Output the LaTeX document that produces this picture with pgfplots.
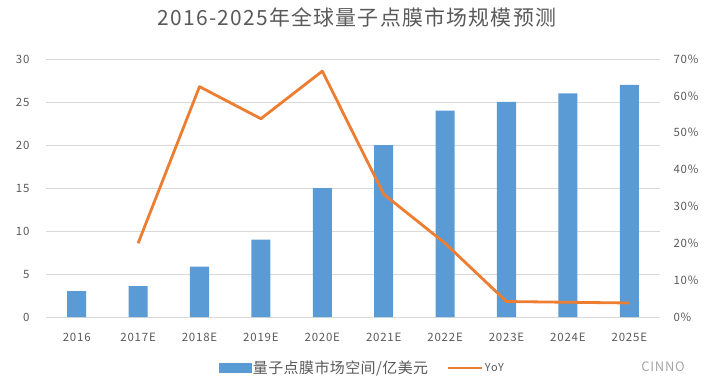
\documentclass[border=0pt]{standalone}
\usepackage{fontspec}
\setmainfont{Noto Sans CJK SC}
\usepackage{pgfplots}
\pgfplotsset{compat=1.18}
\definecolor{barblue}{HTML}{5B9BD5}
\definecolor{lineorange}{HTML}{ED7D31}
\definecolor{txtgray}{HTML}{595959}
\definecolor{gridgray}{HTML}{D9D9D9}
\newcommand{\tickfont}{\fontsize{11.5}{13}\selectfont\addfontfeatures{LetterSpace=7}}
\begin{document}
\begin{tikzpicture}[x=1bp,y=1bp]
\useasboundingbox (0,0) rectangle (712,388);
\node[text=txtgray, font=\fontsize{21}{24}\selectfont\addfontfeatures{LetterSpace=6}] at (357,371) {2016-2025年全球量子点膜市场规模预测};
\node[text=black!35, font=\fontsize{13}{15}\selectfont\addfontfeatures{LetterSpace=6}] at (663,21) {CINNO};
\begin{axis}[at={(46bp,71bp)}, anchor=south west, scale only axis,
  width=614bp, height=258bp,
  xmin=-0.5, xmax=9.5, ymin=0, ymax=30,
  xtick={0,...,9},
  xticklabels={2016,2017E,2018E,2019E,2020E,2021E,2022E,2023E,2024E,2025E},
  ytick={0,5,...,30},
  axis line style={draw=none},
  ymajorgrids, grid style={gridgray, line width=0.9bp},
  major tick length=0pt,
  tick label style={font=\tickfont, text=txtgray},
  /pgf/number format/assume math mode=true,
  xticklabel style={anchor=center, yshift=-20bp},
  yticklabel style={anchor=east, xshift=-13bp},
  legend style={at={(axis description cs:0.515,-0.198)}, anchor=center, draw=none, fill=none,
    font=\fontsize{15}{17}\selectfont\addfontfeatures{LetterSpace=3}, text=txtgray, legend columns=2,
    /tikz/every even column/.append style={column sep=16bp}},
]
\addplot[ybar, bar width=0.31, fill=barblue, draw=none, forget plot] coordinates {
 (0,3) (1,3.6) (2,5.85) (3,9) (4,15) (5,20) (6,24) (7,25) (8,26) (9,27)};
\addlegendimage{legend image code/.code={\fill[barblue] (0bp,-4.5bp) rectangle (32bp,4.5bp);}}
\addlegendentry{量子点膜市场空间/亿美元}
\addlegendimage{legend image code/.code={\draw[lineorange, line width=2.8bp] (0bp,0bp) -- (34bp,0bp);}}
\addlegendentry{\fontsize{11}{13}\selectfont\addfontfeatures{LetterSpace=8}YoY}
\end{axis}
\begin{axis}[at={(46bp,71bp)}, anchor=south west, scale only axis,
  width=614bp, height=258bp,
  xmin=-0.5, xmax=9.5, ymin=0, ymax=70,
  hide x axis, axis y line*=right,
  axis line style={draw=none},
  ytick={0,10,...,70},
  yticklabel={\pgfmathprintnumber{\tick}\%},
  major tick length=0pt,
  tick label style={font=\tickfont, text=txtgray},
  /pgf/number format/assume math mode=true,
  yticklabel style={anchor=west, xshift=10bp},
]
\addplot[lineorange, line width=2.8bp, line join=round, no marks] coordinates {
 (1,20) (2,62.5) (3,53.8) (4,66.7) (5,33.3) (6,20) (7,4.2) (8,4) (9,3.8)};
\end{axis}
\end{tikzpicture}
\end{document}
